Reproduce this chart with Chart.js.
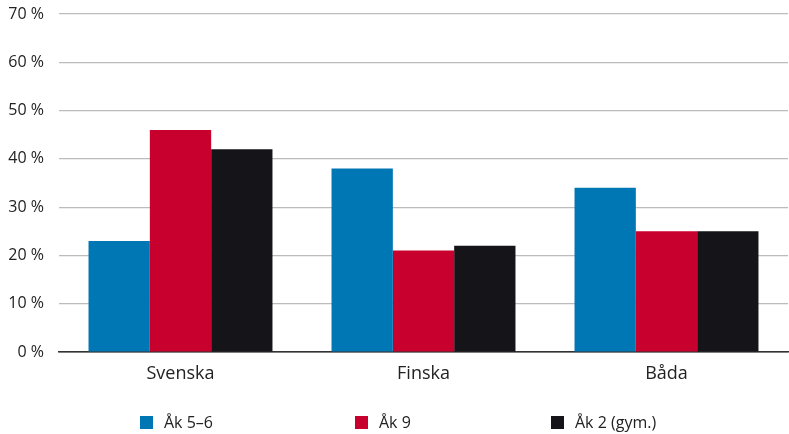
<!DOCTYPE html>
<html>
<head>
<meta charset="utf-8">
<script src="https://cdn.jsdelivr.net/npm/chart.js@4/dist/chart.umd.min.js"></script>
<style>
  html, body { margin: 0; padding: 0; background: #fff; }
  #wrap { position: relative; width: 789px; height: 434px; }
  #chart { position: absolute; left: 0; top: 0; }
  .leg { position: absolute; top: 411px; display: flex; align-items: center;
         font-family: "Open Sans", "Noto Sans", sans-serif; font-size: 16px; color: #222; }
  .leg span.box { display: inline-block; width: 13px; height: 13px; margin-right: 11px; }
</style>
</head>
<body>
<div id="wrap">
  <canvas id="chart" width="789" height="434"></canvas>
  <div id="legend"></div>
</div>
<script>
// Language groups along the x axis
const categories = ["Svenska", "Finska", "Båda"];
// Share of pupils per school year (%)
const seriesNames = ["Åk 5–6", "Åk 9", "Åk 2 (gym.)"];
const ak56 = [23, 38, 34];
const ak9 = [46, 21, 25];
const ak2gym = [42, 22, 25];
const seriesColors = ["#0077b5", "#c8002d", "#151519"];
const yTicks = [0, 10, 20, 30, 40, 50, 60, 70];

const fontFamily = '"Open Sans", "Noto Sans", sans-serif';

const datasets = [ak56, ak9, ak2gym].map((vals, i) => ({
  label: seriesNames[i],
  data: vals,
  backgroundColor: seriesColors[i],
  borderWidth: 0,
  categoryPercentage: 0.757,
  barPercentage: 1.0
}));

new Chart(document.getElementById("chart"), {
  type: "bar",
  data: { labels: categories, datasets },
  options: {
    responsive: false,
    animation: false,
    layout: { padding: { top: 14, right: 1, left: 0, bottom: 0 } },
    plugins: { legend: { display: false }, tooltip: { enabled: false } },
    scales: {
      x: {
        grid: { display: false },
        border: { display: true, color: "#333", width: 1.5 },
        ticks: { color: "#222", font: { family: fontFamily, size: 18 }, padding: 3 },
        afterFit: s => { s.height = 82; s.paddingLeft = 0; s.paddingRight = 0; }
      },
      y: {
        min: 0, max: 70,
        afterBuildTicks: s => { s.ticks = yTicks.map(v => ({ value: v })); },
        grid: {
          color: c => c.tick && c.tick.value === 0 ? "#333" : "#bcbcbc",
          lineWidth: 1.2,
          drawTicks: false
        },
        border: { display: false },
        ticks: {
          color: "#222",
          font: { family: fontFamily, size: 16 },
          padding: 15,
          callback: v => v + " %"
        },
        afterFit: s => { s.width = 59; s.paddingTop = 0; s.paddingBottom = 0; }
      }
    }
  }
});

// Legend row below the plot
const legendX = [140, 355, 551];
const legend = document.getElementById("legend");
seriesNames.forEach((name, i) => {
  const d = document.createElement("div");
  d.className = "leg";
  d.style.left = legendX[i] + "px";
  d.innerHTML = '<span class="box" style="background:' + seriesColors[i] + '"></span>' + name;
  legend.appendChild(d);
});
</script>
</body>
</html>
